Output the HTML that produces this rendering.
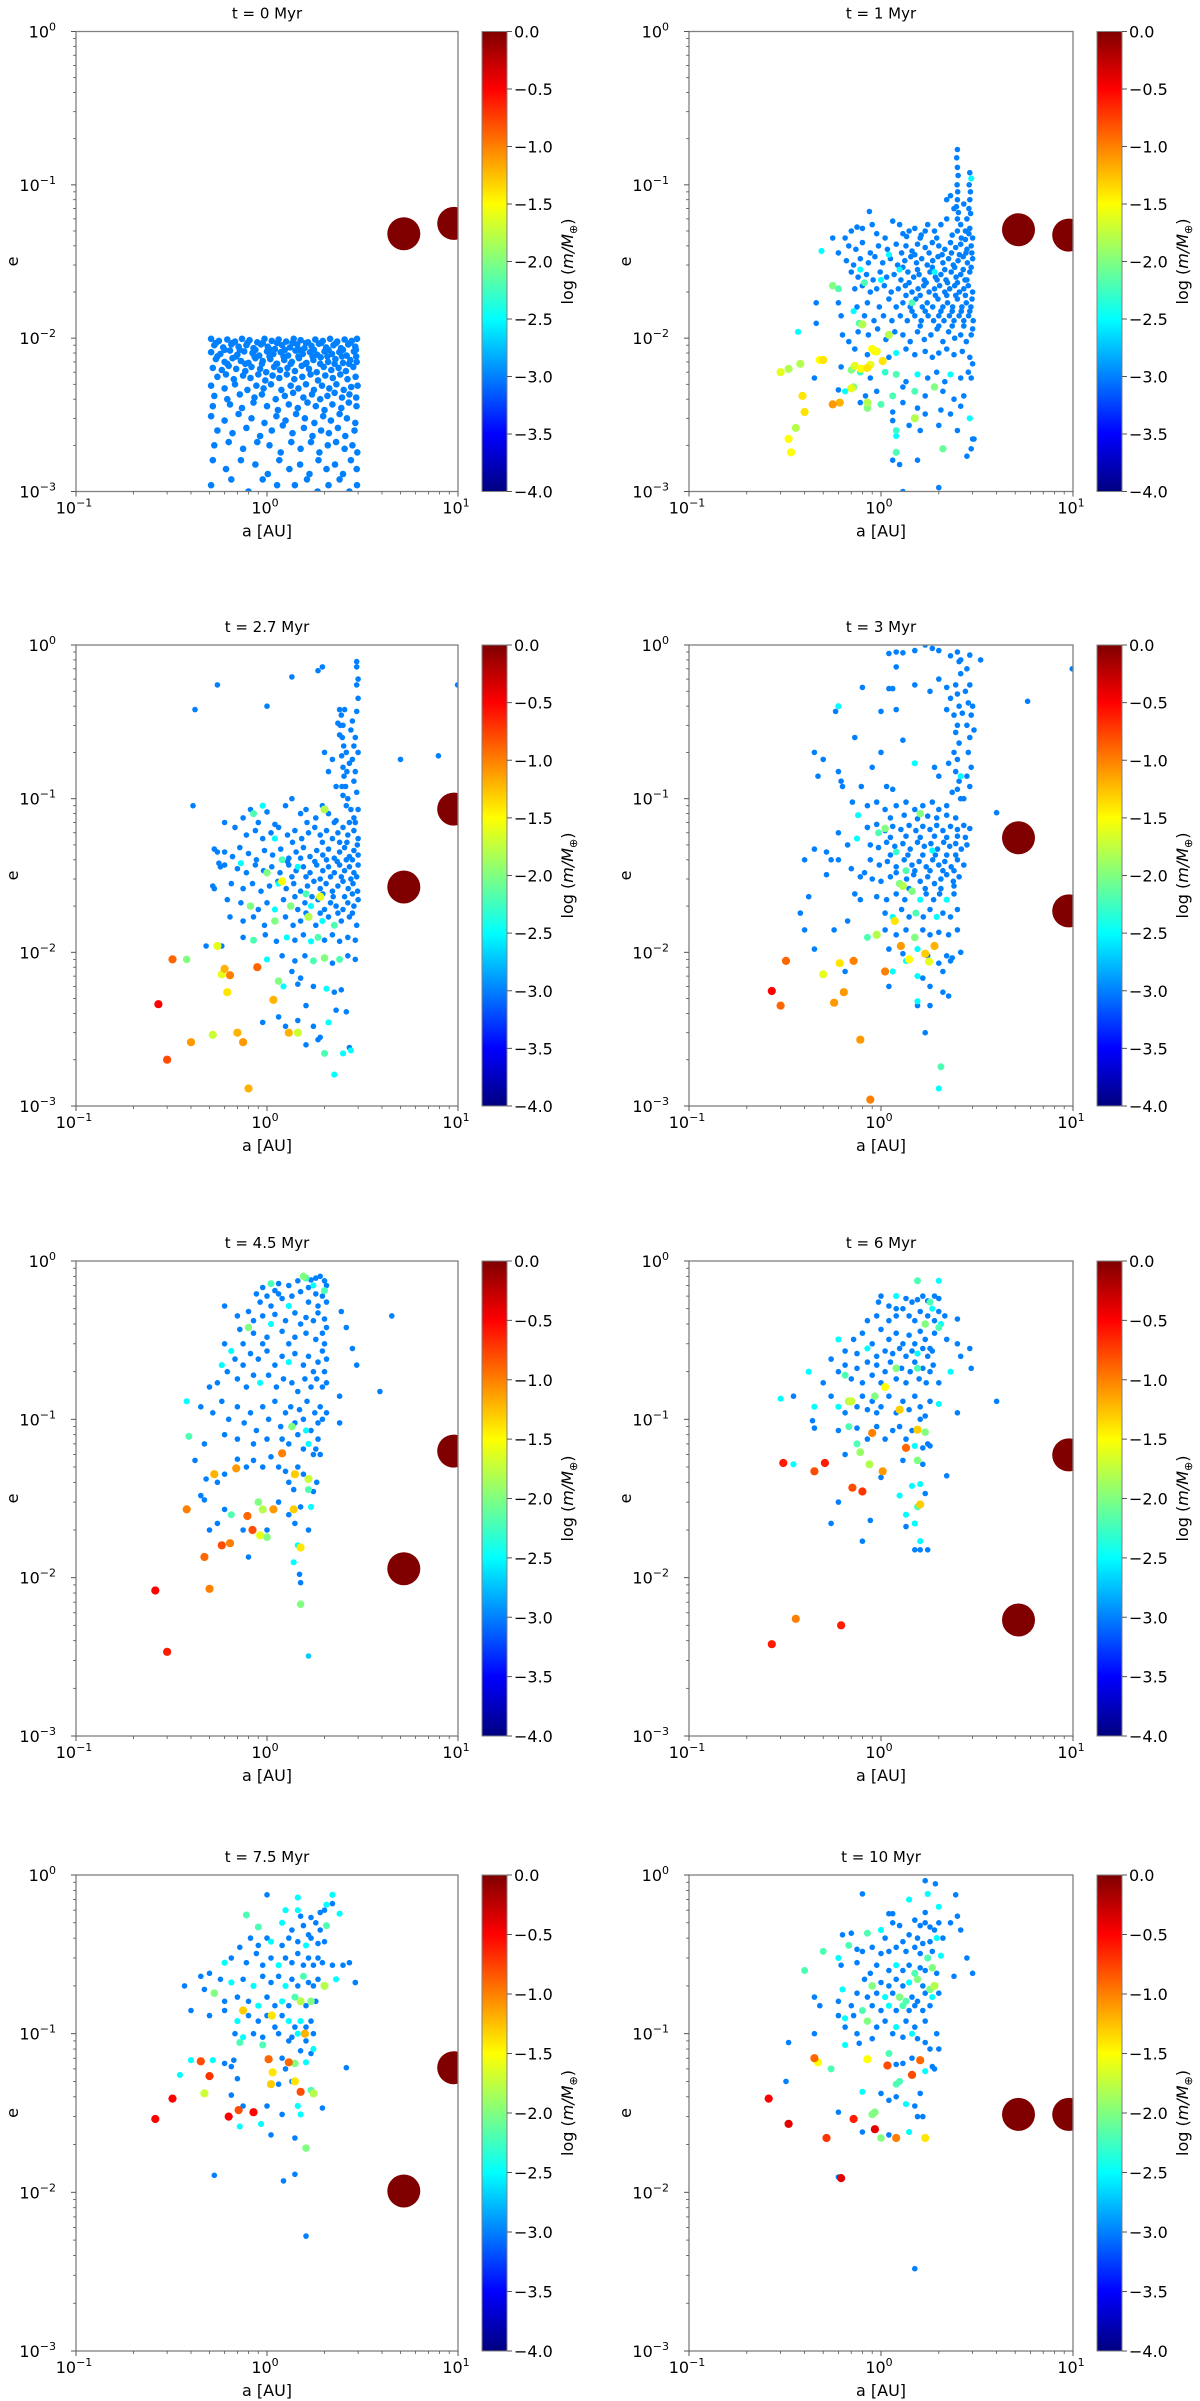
<!DOCTYPE html>
<html><head><meta charset="utf-8"><title>Planetesimal evolution a-e</title>
<style>
html,body{margin:0;padding:0;background:#fff;}
svg{display:block;font-family:"DejaVu Sans","Liberation Sans",sans-serif;}
</style></head>
<body>
<svg id="fig" width="1200" height="2401" viewBox="0 0 1200 2401" xmlns="http://www.w3.org/2000/svg">
<defs>
<linearGradient id="jetgrad" x1="0" y1="1" x2="0" y2="0">
<stop offset="0" stop-color="#00007f"/><stop offset="0.125" stop-color="#0000ff"/><stop offset="0.25" stop-color="#0080ff"/><stop offset="0.375" stop-color="#00ffff"/><stop offset="0.5" stop-color="#80ff80"/><stop offset="0.625" stop-color="#ffff00"/><stop offset="0.75" stop-color="#ff8000"/><stop offset="0.875" stop-color="#ff0000"/><stop offset="1" stop-color="#7f0000"/>
</linearGradient>
</defs>
</svg>
<script>
// ---- data: [a (AU), e, log(m/Mearth)] ----
const titles = ["t = 0 Myr","t = 1 Myr","t = 2.7 Myr","t = 3 Myr","t = 4.5 Myr","t = 6 Myr","t = 7.5 Myr","t = 10 Myr"];
const xTicks = [-1,0,1];
const yTicks = [-3,-2,-1,0];
const cbTicks = [0,-0.5,-1,-1.5,-2,-2.5,-3,-3.5,-4];
const cbLabels = ["0.0","\u22120.5","\u22121.0","\u22121.5","\u22122.0","\u22122.5","\u22123.0","\u22123.5","\u22124.0"];

const t0 = [[5.2,0.048,0],[9.5,0.056,0],
[0.51,.0099,-3],[0.56,.0096,-3],[0.62,.0098,-3],[0.68,.0095,-3],[0.74,.0099,-3],[0.81,.0097,-3],[0.89,.0094,-3],[0.97,.0099,-3],[1.06,.0096,-3],[1.15,.0098,-3],[1.26,.0095,-3],[1.38,.0099,-3],[1.5,.0097,-3],[1.64,.0094,-3],[1.79,.0098,-3],[1.96,.0096,-3],[2.14,.0099,-3],[2.33,.0095,-3],[2.55,.0098,-3],[2.78,.0096,-3],[2.96,.0099,-3],
[0.54,.0093,-3],[0.6,.0084,-3],[0.66,.0093,-3],[0.72,.0084,-3],[0.79,.0093,-3],[0.87,.0084,-3],[0.95,.0093,-3],[1.04,.0084,-3],[1.13,.0093,-3],[1.24,.0084,-3],[1.36,.0093,-3],[1.48,.0084,-3],[1.6,.0093,-3],[1.76,.0084,-3],[1.92,.0093,-3],[2.1,.0084,-3],[2.3,.0093,-3],[2.5,.0084,-3],[2.72,.0093,-3],[2.92,.0084,-3],
[0.53,.009,-3],[0.59,.0087,-3],[0.65,.0091,-3],[0.71,.0088,-3],[0.78,.009,-3],[0.85,.0086,-3],[0.93,.0091,-3],[1.01,.0088,-3],[1.1,.0085,-3],[1.2,.009,-3],[1.32,.0087,-3],[1.44,.0091,-3],[1.57,.0086,-3],[1.71,.0089,-3],[1.87,.0092,-3],[2.04,.0087,-3],[2.23,.009,-3],[2.44,.0086,-3],[2.66,.0091,-3],[2.9,.0088,-3],
[0.51,.0081,-3],[0.57,.0079,-3],[0.64,.0083,-3],[0.7,.0078,-3],[0.76,.0082,-3],[0.84,.008,-3],[0.91,.0077,-3],[1.0,.0082,-3],[1.08,.0079,-3],[1.18,.0081,-3],[1.29,.0077,-3],[1.41,.0083,-3],[1.54,.0079,-3],[1.68,.0081,-3],[1.83,.0078,-3],[2.0,.0082,-3],[2.19,.0079,-3],[2.39,.0081,-3],[2.61,.0077,-3],[2.85,.0082,-3],
[0.55,.0076,-3],[0.62,.0068,-3],[0.69,.0076,-3],[0.77,.0068,-3],[0.86,.0076,-3],[0.94,.0068,-3],[1.03,.0076,-3],[1.12,.0068,-3],[1.22,.0076,-3],[1.33,.0068,-3],[1.46,.0076,-3],[1.59,.0068,-3],[1.73,.0076,-3],[1.9,.0068,-3],[2.07,.0076,-3],[2.26,.0068,-3],[2.47,.0076,-3],[2.69,.0068,-3],[2.93,.0076,-3],
[0.54,.0073,-3],[0.6,.007,-3],[0.66,.0074,-3],[0.73,.0071,-3],[0.8,.0069,-3],[0.87,.0074,-3],[0.95,.0071,-3],[1.04,.0073,-3],[1.13,.0068,-3],[1.23,.0072,-3],[1.35,.007,-3],[1.47,.0074,-3],[1.61,.0069,-3],[1.75,.0072,-3],[1.91,.0075,-3],[2.09,.007,-3],[2.28,.0073,-3],[2.5,.0069,-3],[2.73,.0072,-3],[2.95,.007,-3],
[0.52,.0064,-3],[0.58,.0062,-3],[0.63,.0066,-3],[0.69,.0063,-3],[0.77,.0061,-3],[0.83,.0065,-3],[0.92,.0063,-3],[0.99,.006,-3],[1.09,.0065,-3],[1.17,.0062,-3],[1.28,.0064,-3],[1.4,.0061,-3],[1.52,.0066,-3],[1.66,.0063,-3],[1.82,.006,-3],[1.98,.0065,-3],[2.17,.0062,-3],[2.37,.0064,-3],[2.59,.0061,-3],[2.83,.0065,-3],
[0.55,.0056,-3],[0.61,.0058,-3],[0.67,.0054,-3],[0.75,.0057,-3],[0.82,.0055,-3],[0.9,.0058,-3],[0.98,.0053,-3],[1.07,.0057,-3],[1.16,.0055,-3],[1.27,.0058,-3],[1.39,.0054,-3],[1.53,.0056,-3],[1.69,.0058,-3],[1.85,.0053,-3],[2.02,.0057,-3],[2.21,.0055,-3],[2.42,.0058,-3],[2.64,.0054,-3],[2.91,.0056,-3],
[0.51,.0049,-3],[0.6,.0047,-3],[0.68,.005,-3],[0.79,.0046,-3],[0.88,.0049,-3],[0.96,.0047,-3],[1.05,.005,-3],[1.19,.0046,-3],[1.33,.0049,-3],[1.46,.0047,-3],[1.6,.005,-3],[1.76,.0046,-3],[1.94,.0049,-3],[2.12,.0047,-3],[2.31,.005,-3],[2.52,.0046,-3],[2.76,.0048,-3],[2.98,.0049,-3],
[0.53,.0042,-3],[0.62,.004,-3],[0.72,.0043,-3],[0.86,.0041,-3],[0.94,.0043,-3],[1.11,.004,-3],[1.24,.0042,-3],[1.37,.0044,-3],[1.55,.0041,-3],[1.72,.0043,-3],[1.9,.004,-3],[2.07,.0042,-3],[2.26,.0044,-3],[2.47,.0041,-3],[2.7,.0043,-3],[2.93,.0041,-3],
[0.52,.0036,-3],[0.64,.0037,-3],[0.74,.0035,-3],[0.85,.0038,-3],[1.0,.0036,-3],[1.14,.0034,-3],[1.3,.0037,-3],[1.45,.0035,-3],[1.63,.0038,-3],[1.8,.0036,-3],[2.0,.0034,-3],[2.2,.0037,-3],[2.45,.0035,-3],[2.68,.0038,-3],[2.94,.0036,-3],
[0.51,.0031,-3],[0.6,.0029,-3],[0.71,.0032,-3],[0.83,.003,-3],[0.97,.0028,-3],[1.12,.0031,-3],[1.25,.0029,-3],[1.42,.0032,-3],[1.58,.003,-3],[1.77,.0028,-3],[1.97,.0031,-3],[2.16,.0029,-3],[2.4,.0032,-3],[2.62,.003,-3],[2.9,.0028,-3],
[0.55,.0025,-3],[0.66,.0024,-3],[0.78,.0026,-3],[0.92,.0023,-3],[1.06,.0025,-3],[1.21,.0027,-3],[1.36,.0024,-3],[1.56,.0026,-3],[1.73,.0023,-3],[1.92,.0025,-3],[2.11,.0024,-3],[2.35,.0026,-3],[2.57,.0023,-3],[2.87,.0025,-3],
[0.53,.002,-3],[0.63,.0021,-3],[0.75,.0019,-3],[0.89,.0021,-3],[1.03,.002,-3],[1.18,.0018,-3],[1.34,.0021,-3],[1.5,.0019,-3],[1.7,.0021,-3],[1.88,.0018,-3],[2.08,.002,-3],[2.3,.0021,-3],[2.55,.0019,-3],[2.8,.002,-3],[2.97,.0018,-3],
[0.52,.0016,-3],[0.61,.0014,-3],[0.73,.0016,-3],[0.87,.0015,-3],[1.01,.0013,-3],[1.16,.0016,-3],[1.31,.0014,-3],[1.49,.0015,-3],[1.67,.0013,-3],[1.86,.0016,-3],[2.05,.0014,-3],[2.27,.0015,-3],[2.5,.0013,-3],[2.75,.0016,-3],[2.95,.0014,-3],
[0.51,.0011,-3],[0.65,.0012,-3],[0.8,.001,-3],[0.95,.0012,-3],[1.13,.0011,-3],[1.4,.0011,-3],[1.62,.0012,-3],[1.84,.001,-3],[2.1,.0011,-3],[2.4,.0012,-3],[2.7,.001,-3],[2.96,.0011,-3]];

const t1 = [[5.2,0.051,0],[9.5,0.047,0],
[2.5,0.17,-3],[2.48,0.15,-3],[2.5,0.13,-3],[2.52,0.115,-3],[2.49,0.1,-3],[2.51,0.09,-3],[2.5,0.08,-3],[2.47,0.072,-3],[2.53,0.066,-3],[2.5,0.06,-3],[2.9,0.12,-3],[2.88,0.1,-3],[2.92,0.09,-3],[2.9,0.08,-3],[2.87,0.07,-3],[2.93,0.065,-3],[2.95,0.11,-2.5],[2.3,0.085,-3],[2.2,0.08,-3],[2.4,0.07,-3],[2.7,0.075,-3],[2.8,0.06,-3],
[0.56,0.045,-3],[0.49,0.037,-2.5],[0.6,0.036,-3],[0.65,0.045,-3],[0.7,0.05,-3],[0.75,0.053,-3],[0.8,0.052,-3],[0.87,0.067,-3],[0.9,0.055,-3],[0.95,0.048,-3],[1.05,0.045,-3],[1.15,0.058,-3],[1.25,0.055,-3],[1.3,0.048,-3],[1.4,0.05,-3],[1.5,0.052,-3],[1.6,0.045,-3],[1.75,0.055,-3],[1.9,0.05,-3],[2.05,0.055,-3],[2.2,0.06,-3],[2.6,0.055,-3],[2.75,0.05,-3],[3.0,0.045,-3],
[0.68,0.04,-3],[0.74,0.038,-3],[0.8,0.042,-3],[0.88,0.036,-3],[0.97,0.04,-3],[1.08,0.038,-3],[1.2,0.041,-3],[1.35,0.04,-3],[1.45,0.037,-3],[1.55,0.041,-3],[1.7,0.039,-3],[1.85,0.042,-3],[2.0,0.04,-3],[2.15,0.038,-3],[2.3,0.042,-3],[2.45,0.039,-3],[2.6,0.041,-3],[2.8,0.038,-3],[2.95,0.04,-3],
[0.66,0.032,-3],[0.72,0.03,-3],[0.78,0.033,-3],[0.86,0.031,-3],[0.93,0.034,-3],[1.02,0.031,-3],[1.12,0.033,-3],[1.22,0.03,-3],[1.33,0.032,-3],[1.43,0.034,-3],[1.53,0.031,-3],[1.63,0.033,-3],[1.74,0.03,-3],[1.86,0.032,-3],[1.98,0.034,-3],[2.1,0.031,-3],[2.25,0.033,-3],[2.38,0.03,-3],[2.52,0.032,-3],[2.68,0.034,-3],[2.82,0.031,-3],[3.0,0.033,-3],[1.1,0.035,-2.5],[0.78,0.028,-2.5],
[0.7,0.027,-3],[0.76,0.025,-3],[0.84,0.026,-3],[0.91,0.024,-3],[0.99,0.027,-3],[1.07,0.025,-3],[1.17,0.026,-3],[1.27,0.024,-3],[1.38,0.027,-3],[1.48,0.025,-3],[1.58,0.026,-3],[1.68,0.024,-3],[1.8,0.027,-3],[1.92,0.025,-3],[2.05,0.026,-3],[2.18,0.024,-3],[2.32,0.027,-3],[2.46,0.025,-3],[2.6,0.026,-3],[2.74,0.024,-3],[2.9,0.027,-3],[1.25,0.028,-2.5],[1.9,0.027,-2.5],
[0.56,0.022,-2],[0.6,0.021,-2.2],[0.73,0.021,-3],[0.8,0.022,-3],[0.88,0.02,-3],[0.95,0.021,-3],[1.04,0.022,-3],[1.13,0.02,-3],[1.23,0.021,-3],[1.34,0.022,-3],[1.45,0.02,-3],[1.56,0.021,-3],[1.67,0.022,-3],[1.78,0.02,-3],[1.9,0.021,-3],[2.02,0.022,-3],[2.15,0.02,-3],[2.28,0.021,-3],[2.42,0.022,-3],[2.56,0.02,-3],[2.7,0.021,-3],[2.85,0.022,-3],[3.0,0.02,-3],[0.82,0.023,-2.2],[1.0,0.024,-2.5],
[0.46,0.017,-3],[0.6,0.017,-3],[0.75,0.016,-3],[0.85,0.017,-3],[0.98,0.016,-3],[1.1,0.018,-3],[1.2,0.016,-3],[1.3,0.017,-3],[1.42,0.016,-3],[1.52,0.018,-3],[1.64,0.016,-3],[1.74,0.017,-3],[1.86,0.016,-3],[1.98,0.018,-3],[2.1,0.016,-3],[2.22,0.017,-3],[2.36,0.016,-3],[2.5,0.018,-3],[2.64,0.016,-3],[2.78,0.017,-3],[2.94,0.016,-3],[1.45,0.017,-2.2],
[0.62,0.014,-3],[0.72,0.015,-2.5],[0.82,0.014,-3],[0.92,0.013,-3],[1.03,0.014,-3],[1.14,0.013,-3],[1.26,0.014,-3],[1.37,0.013,-3],[1.5,0.014,-3],[1.62,0.013,-3],[1.76,0.014,-3],[1.88,0.013,-3],[2.0,0.014,-3],[2.13,0.013,-3],[2.27,0.014,-3],[2.4,0.013,-3],[2.55,0.014,-3],[2.7,0.013,-3],[2.86,0.014,-3],[3.02,0.013,-3],[0.77,0.0125,-2.2],
[0.46,0.0125,-3],[0.37,0.011,-2.5],[0.63,0.0105,-3],[0.68,0.0095,-3],[0.76,0.011,-3],[0.86,0.0105,-3],[0.96,0.0115,-3],[1.06,0.0098,-3],[1.18,0.011,-3],[1.3,0.0105,-3],[1.42,0.0095,-3],[1.55,0.011,-3],[1.68,0.0098,-3],[1.82,0.0105,-3],[1.96,0.0115,-3],[2.1,0.0095,-3],[2.25,0.011,-3],[2.42,0.01,-3],[2.6,0.0105,-3],[2.78,0.0095,-3],[2.95,0.0105,-3],[1.1,0.0105,-1.8],
[0.73,0.0085,-3],[0.85,0.0078,-3],[0.95,0.0082,-1.6],[1.1,0.0075,-3],[1.2,0.008,-2.5],[1.35,0.0085,-3],[1.5,0.0078,-3],[1.7,0.0082,-3],[1.85,0.0075,-3],[2.0,0.008,-3],[2.2,0.0085,-3],[2.4,0.0078,-3],[2.65,0.0082,-3],[2.9,0.0075,-3],[3.0,0.0068,-3],
[0.45,0.0055,-3],[0.62,0.0065,-3],[0.7,0.0062,-2],[0.78,0.006,-2.3],[0.88,0.0055,-3],[1.05,0.006,-2.3],[1.2,0.0058,-2.2],[1.35,0.0052,-3],[1.55,0.0058,-2.5],[1.75,0.0055,-3],[1.95,0.006,-3],[2.15,0.0052,-3],[2.3,0.0058,-2.5],[2.6,0.0055,-3],[2.85,0.006,-3],[2.95,0.0055,-3],
[0.6,0.0046,-3],[0.65,0.0045,-2.5],[0.72,0.0048,-2],[0.83,0.0042,-3],[0.95,0.0045,-3],[1.15,0.0042,-2.2],[1.3,0.0048,-3],[1.5,0.0045,-2.2],[1.7,0.0042,-3],[1.9,0.0048,-2],[2.1,0.0045,-3],[2.4,0.004,-3],[2.7,0.0042,-3],
[0.78,0.0038,-3],[0.85,0.0035,-2],[1.0,0.0037,-2.2],[1.15,0.0033,-3],[1.3,0.0038,-3],[1.55,0.0035,-3],[1.7,0.0032,-3],[2.05,0.0034,-3],[2.3,0.0032,-3],[2.6,0.0036,-3],[2.9,0.003,-2.5],
[1.15,0.0029,-3],[1.2,0.0025,-2.3],[1.4,0.0027,-3],[1.5,0.003,-1.8],[1.6,0.0025,-3],[2.0,0.0027,-3],[2.5,0.0025,-3],[3.0,0.0022,-3],[3.05,0.0022,-3],[1.2,0.0023,-2.5],
[1.15,0.0016,-3],[1.2,0.0018,-2.2],[1.25,0.0015,-3],[1.55,0.0016,-3],[2.1,0.0019,-2.1],[2.8,0.0017,-3],[2.95,0.0019,-3],[1.3,0.001,-3],[2.0,0.00106,-3],
[1.36,0.046,-3],[1.62,0.047,-3],[1.95,0.045,-3],[2.35,0.047,-3],[2.62,0.045,-3],[2.87,0.048,-3],[1.28,0.036,-3],[1.5,0.035,-3],[1.78,0.036,-3],[2.08,0.035,-3],[2.33,0.036,-3],[2.56,0.035,-3],[2.77,0.036,-3],[2.97,0.036,-3],[1.3,0.029,-3],[1.55,0.028,-3],[1.85,0.029,-3],[2.15,0.028,-3],[2.42,0.029,-3],[2.68,0.028,-3],[2.95,0.029,-3],[1.4,0.023,-3],[1.72,0.023,-3],[1.96,0.024,-3],[2.22,0.023,-3],[2.5,0.023,-3],[2.8,0.024,-3],[1.35,0.019,-3],[1.6,0.019,-3],[1.92,0.019,-3],[2.2,0.019,-3],[2.45,0.019,-3],[2.75,0.019,-3],[2.98,0.018,-3],[1.45,0.015,-3],[1.7,0.015,-3],[2.05,0.015,-3],[2.35,0.015,-3],[2.62,0.015,-3],[2.9,0.015,-3],[1.6,0.012,-3],[2.0,0.012,-3],[2.35,0.012,-3],[2.7,0.012,-3],[3.0,0.0115,-3],[2.5,0.05,-3],[2.75,0.044,-3],[2.9,0.052,-3],[1.7,0.05,-3],
[0.3,0.006,-1.6],[0.33,0.0063,-1.8],[0.38,0.0068,-1.8],[0.48,0.0072,-1.5],[0.5,0.0072,-1.4],[0.39,0.0042,-1.4],[0.4,0.0033,-1.4],[0.36,0.0026,-1.8],[0.33,0.0022,-1.5],[0.34,0.0018,-1.5],[0.56,0.0037,-1.1],[0.61,0.0038,-1.2],[0.7,0.0047,-1.6],[0.85,0.0038,-1.8],[0.88,0.0067,-1.6],[0.73,0.0066,-1.6],[0.79,0.0063,-1.5],[0.85,0.0064,-1.4],[0.93,0.0082,-1.5],[1.02,0.0071,-1.4],[0.8,0.0123,-1.8],[0.9,0.0085,-1.5]];

const t2 = [[5.2,0.0266,0],[9.5,0.0855,0],
[2.45,0.35,-3],[2.5,0.3,-3],[2.48,0.25,-3],[2.52,0.22,-3],[2.46,0.19,-3],[2.5,0.16,-3],[2.53,0.14,-3],[2.47,0.12,-3],[2.5,0.105,-3],[2.42,0.3,-3],[2.4,0.26,-3],[2.55,0.38,-3],[2.6,0.2,-3],[2.62,0.15,-3],[2.58,0.12,-3],[2.8,0.32,-3],[2.75,0.28,-3],[2.85,0.22,-3],[2.8,0.18,-3],[2.9,0.15,-3],[2.85,0.13,-3],[2.95,0.11,-3],[3.0,0.6,-3],[2.95,0.55,-3],[3.0,0.45,-3],[2.95,0.37,-3],[2.9,0.25,-3],[3.0,0.2,-3],[2.7,0.17,-3],[2.65,0.1,-3],[2.3,0.12,-3],[2.2,0.18,-3],[2.0,0.2,-3],[2.1,0.15,-3],[2.4,0.38,-3],[2.35,0.31,-3],[2.6,0.09,-3],[2.75,0.085,-3],[2.95,0.72,-3],
[0.75,0.075,-3],[0.82,0.085,-3],[0.9,0.07,-3],[1.0,0.082,-3],[1.1,0.068,-3],[1.25,0.09,-3],[1.35,0.1,-3],[1.5,0.08,-3],[1.6,0.085,-3],[1.8,0.075,-3],[1.95,0.09,-3],[2.1,0.08,-3],[2.25,0.07,-3],[2.85,0.075,-3],[3.0,0.085,-3],[0.95,0.09,-2.5],[0.85,0.08,-2.2],
[0.6,0.07,-3],[0.68,0.065,-3],[0.78,0.058,-3],[0.87,0.062,-3],[0.95,0.055,-3],[1.05,0.06,-3],[1.15,0.065,-3],[1.28,0.058,-3],[1.4,0.062,-3],[1.52,0.055,-3],[1.65,0.06,-3],[1.78,0.065,-3],[1.9,0.058,-3],[2.05,0.062,-3],[2.2,0.055,-3],[2.35,0.06,-3],[2.5,0.065,-3],[2.65,0.058,-3],[2.85,0.062,-3],[3.0,0.055,-3],[1.1,0.055,-2.5],
[0.55,0.045,-3],[0.6,0.045,-3],[0.66,0.042,-3],[0.72,0.048,-3],[0.8,0.044,-3],[0.88,0.04,-3],[0.97,0.046,-3],[1.07,0.043,-3],[1.18,0.047,-3],[1.3,0.041,-3],[1.42,0.045,-3],[1.55,0.048,-3],[1.68,0.042,-3],[1.82,0.046,-3],[1.96,0.043,-3],[2.1,0.047,-3],[2.25,0.041,-3],[2.4,0.045,-3],[2.55,0.048,-3],[2.7,0.042,-3],[2.85,0.046,-3],[3.0,0.043,-3],[0.73,0.038,-2.5],[1.2,0.04,-2.2],
[0.57,0.036,-3],[0.7,0.035,-3],[0.78,0.033,-3],[0.87,0.037,-3],[0.96,0.034,-3],[1.06,0.036,-3],[1.17,0.033,-3],[1.3,0.037,-3],[1.42,0.034,-3],[1.55,0.036,-3],[1.68,0.033,-3],[1.82,0.037,-3],[1.96,0.034,-3],[2.1,0.036,-3],[2.25,0.033,-3],[2.4,0.037,-3],[2.55,0.034,-3],[2.7,0.036,-3],[2.85,0.033,-3],[3.0,0.037,-3],[1.0,0.033,-2],[1.45,0.036,-2.5],
[0.52,0.027,-3],[0.65,0.028,-3],[0.75,0.026,-3],[0.84,0.028,-3],[0.93,0.025,-3],[1.03,0.027,-3],[1.14,0.029,-3],[1.26,0.026,-3],[1.38,0.028,-3],[1.5,0.025,-3],[1.63,0.027,-3],[1.76,0.029,-3],[1.9,0.026,-3],[2.04,0.028,-3],[2.2,0.025,-3],[2.35,0.027,-3],[2.5,0.029,-3],[2.66,0.026,-3],[2.82,0.028,-3],[2.98,0.025,-3],[1.15,0.028,-2.5],[1.6,0.024,-2.2],
[0.62,0.022,-3],[0.73,0.021,-3],[0.82,0.02,-2],[0.9,0.019,-3],[1.0,0.021,-3],[1.1,0.019,-2.5],[1.22,0.022,-3],[1.33,0.02,-2],[1.45,0.019,-3],[1.58,0.021,-3],[1.7,0.02,-2.5],[1.85,0.022,-3],[2.0,0.019,-3],[2.15,0.021,-3],[2.3,0.02,-3],[2.5,0.019,-3],[2.65,0.021,-3],[2.85,0.02,-3],[3.0,0.022,-3],
[0.64,0.017,-3],[0.75,0.016,-3],[0.85,0.017,-3],[0.97,0.015,-3],[1.1,0.016,-2],[1.25,0.017,-3],[1.37,0.015,-3],[1.5,0.016,-3],[1.65,0.017,-1.8],[1.8,0.015,-3],[1.95,0.016,-2.5],[2.1,0.017,-3],[2.25,0.015,-2.2],[2.45,0.016,-3],[2.7,0.017,-3],[2.95,0.015,-3],
[0.75,0.0125,-3],[0.85,0.012,-2.2],[0.98,0.013,-3],[1.12,0.0118,-3],[1.27,0.0125,-2.5],[1.4,0.012,-3],[1.55,0.013,-3],[1.7,0.0118,-2.5],[1.85,0.0125,-2.2],[2.0,0.012,-3],[2.2,0.013,-3],[2.4,0.0118,-3],[2.65,0.0125,-3],[2.9,0.012,-3],[0.48,0.011,-3],
[1.0,0.009,-2.5],[1.2,0.0095,-3],[1.4,0.0088,-3],[1.58,0.0095,-3],[1.75,0.0088,-2.2],[2.0,0.0092,-2],[2.2,0.0085,-3],[2.4,0.009,-2.2],[2.65,0.0095,-3],[2.9,0.009,-3],[1.35,0.0075,-3],[1.5,0.0068,-3],
[1.15,0.0065,-2],[1.22,0.006,-2.5],[1.45,0.0062,-3],[1.75,0.006,-3],[2.05,0.0058,-2.5],[2.25,0.0055,-3],[2.45,0.0057,-3],[1.6,0.0045,-3],[0.95,0.0035,-3],[1.15,0.0038,-3],[1.45,0.0036,-3],[1.25,0.0033,-3],[1.75,0.0033,-3],[2.1,0.0035,-2.5],[2.3,0.0042,-3],[2.6,0.0041,-3],[1.9,0.0028,-3],[1.6,0.0025,-3],[2.0,0.0022,-2.2],[2.5,0.0022,-2.5],[2.7,0.0024,-3],[2.75,0.0023,-2.5],[2.25,0.0016,-2.5],[1.85,0.0027,-3],
[1.36,0.052,-3],[1.62,0.07,-3],[1.95,0.052,-3],[2.3,0.072,-3],[2.62,0.052,-3],[2.9,0.07,-3],[1.28,0.039,-3],[1.5,0.041,-3],[1.78,0.039,-3],[2.05,0.04,-3],[2.33,0.039,-3],[2.6,0.04,-3],[2.8,0.04,-3],[2.97,0.05,-3],[1.35,0.031,-3],[1.6,0.031,-3],[1.9,0.03,-3],[2.15,0.031,-3],[2.45,0.031,-3],[2.75,0.03,-3],[2.95,0.031,-3],[1.4,0.023,-3],[1.72,0.023,-3],[1.96,0.024,-3],[2.22,0.023,-3],[2.55,0.023,-3],[2.8,0.024,-3],[1.6,0.018,-3],[1.9,0.018,-3],[2.35,0.018,-3],[2.8,0.018,-3],[2.4,0.052,-3],[2.7,0.07,-3],
[0.55,0.55,-3],[0.42,0.38,-3],[0.41,0.09,-3],[1.35,0.62,-3],[1.0,0.4,-3],[1.85,0.68,-3],[1.95,0.72,-3],[2.95,0.78,-3],[5.0,0.18,-3],[7.9,0.19,-3],[9.95,0.55,-3],[0.53,0.047,-3],[0.56,0.038,-3],[0.6,0.037,-3],[0.53,0.026,-3],[0.58,0.011,-3],
[0.27,0.0046,-0.5],[0.3,0.002,-0.8],[0.32,0.009,-0.9],[0.38,0.009,-2],[0.4,0.0026,-1.1],[0.52,0.0029,-1.7],[0.55,0.011,-1.6],[0.58,0.0072,-1.6],[0.6,0.0078,-1.2],[0.62,0.0055,-1.4],[0.64,0.0071,-1.0],[0.7,0.003,-1.2],[0.75,0.0026,-1.1],[0.8,0.0013,-1.2],[0.89,0.008,-0.9],[1.08,0.0049,-1.2],[1.3,0.003,-1.2],[1.45,0.003,-1.7],[1.2,0.029,-1.5],[1.9,0.023,-1.6],[2.0,0.085,-1.8]];

const t3 = [[5.2,0.0556,0],[9.5,0.0186,0],
[2.5,0.9,-3],[2.55,0.78,-3],[2.6,0.65,-3],[2.45,0.55,-3],[2.5,0.48,-3],[2.55,0.4,-3],[2.4,0.35,-3],[2.5,0.3,-3],[2.45,0.27,-3],[2.55,0.23,-3],[2.4,0.2,-3],[2.5,0.18,-3],[2.45,0.15,-3],[2.55,0.13,-3],[2.5,0.115,-3],[2.35,0.11,-3],[2.6,0.1,-3],[2.8,0.7,-3],[2.9,0.55,-3],[2.85,0.42,-3],[2.95,0.35,-3],[2.8,0.3,-3],[2.9,0.25,-3],[2.85,0.2,-3],[2.95,0.16,-3],[2.8,0.14,-3],[2.9,0.12,-3],[2.7,0.1,-3],[2.75,0.5,-3],[3.0,0.4,-3],[3.05,0.28,-3],[2.3,0.45,-3],[2.2,0.38,-3],[2.25,0.17,-3],[2.65,0.36,-3],[2.6,0.14,-2.5],
[1.1,0.88,-3],[1.2,0.9,-3],[1.3,0.89,-3],[1.5,0.92,-3],[1.7,1.0,-3],[1.85,0.95,-3],[2.0,0.92,-3],[2.3,0.85,-3],[2.6,0.8,-3],[2.9,0.86,-3],[3.3,0.8,-3],[1.2,0.72,-3],[0.8,0.53,-3],[1.1,0.52,-3],[1.15,0.52,-3],[1.5,0.55,-3],[1.8,0.5,-3],[2.0,0.6,-3],[2.2,0.53,-3],[0.6,0.4,-2.5],[0.58,0.37,-3],[1.0,0.37,-3],[1.2,0.38,-3],[0.73,0.25,-3],[1.3,0.24,-3],[0.45,0.2,-3],[0.5,0.18,-3],[0.6,0.15,-3],[0.62,0.13,-3],[0.9,0.16,-3],[1.0,0.2,-3],[1.5,0.17,-2.5],[0.47,0.14,-3],[0.63,0.12,-3],[0.71,0.095,-3],[0.79,0.12,-3],[1.07,0.12,-3],[1.15,0.115,-3],[5.8,0.43,-3],[9.9,0.7,-3],[4.0,0.081,-3],[1.9,0.16,-3],[2.0,0.14,-3],
[0.85,0.09,-3],[0.95,0.095,-3],[1.05,0.085,-3],[1.2,0.09,-3],[1.35,0.095,-3],[1.5,0.085,-3],[1.65,0.09,-3],[1.85,0.095,-3],[2.0,0.085,-3],[2.2,0.09,-3],[0.76,0.078,-2.5],[1.6,0.08,-2],
[0.85,0.065,-3],[0.95,0.068,-3],[1.05,0.062,-3],[1.15,0.066,-3],[1.27,0.063,-3],[1.4,0.067,-3],[1.52,0.062,-3],[1.65,0.066,-3],[1.8,0.063,-3],[1.95,0.067,-3],[2.1,0.062,-3],[2.3,0.066,-3],[2.5,0.063,-3],[2.7,0.067,-3],[2.9,0.064,-3],[0.97,0.06,-2.2],[1.05,0.064,-2],[0.6,0.06,-3],[0.75,0.055,-2.5],[0.67,0.05,-3],
[0.88,0.05,-3],[0.97,0.048,-3],[1.07,0.052,-3],[1.18,0.049,-3],[1.3,0.051,-3],[1.42,0.047,-3],[1.55,0.052,-3],[1.68,0.049,-3],[1.82,0.051,-3],[1.97,0.047,-3],[2.12,0.052,-3],[2.28,0.049,-3],[2.45,0.051,-3],[2.62,0.047,-3],[2.8,0.05,-3],[1.2,0.045,-2.3],[1.85,0.046,-2.5],[0.45,0.047,-3],[0.52,0.045,-3],[0.55,0.04,-3],
[0.88,0.04,-3],[0.98,0.037,-3],[1.08,0.039,-3],[1.2,0.036,-3],[1.32,0.04,-3],[1.45,0.037,-3],[1.58,0.039,-3],[1.72,0.036,-3],[1.86,0.04,-3],[2.0,0.037,-3],[2.15,0.039,-3],[2.32,0.036,-3],[2.5,0.04,-3],[2.7,0.037,-3],[0.7,0.035,-3],[0.6,0.04,-3],[0.82,0.033,-3],[1.35,0.034,-2.2],[0.4,0.04,-3],
[0.78,0.031,-3],[0.9,0.03,-3],[1.0,0.029,-3],[1.12,0.031,-3],[1.25,0.028,-2],[1.36,0.03,-3],[1.48,0.032,-3],[1.6,0.029,-3],[1.75,0.031,-3],[1.9,0.028,-3],[2.05,0.03,-3],[2.2,0.032,-3],[2.38,0.029,-3],[2.55,0.031,-3],[1.3,0.027,-1.8],[0.52,0.032,-3],
[0.73,0.024,-3],[0.78,0.022,-3],[0.95,0.023,-3],[1.07,0.022,-3],[1.2,0.024,-3],[1.33,0.022,-3],[1.45,0.025,-2],[1.6,0.022,-2.5],[1.72,0.024,-3],[1.88,0.022,-3],[2.02,0.024,-3],[2.2,0.022,-2.5],[2.4,0.024,-3],[0.42,0.023,-3],
[1.05,0.018,-3],[1.15,0.017,-2.5],[1.28,0.019,-3],[1.4,0.017,-3],[1.52,0.018,-2.2],[1.66,0.017,-3],[1.8,0.019,-3],[1.95,0.017,-2.5],[2.1,0.018,-3],[2.3,0.017,-3],[2.5,0.019,-3],[0.38,0.018,-3],[0.67,0.016,-3],
[0.95,0.013,-1.8],[1.05,0.014,-3],[1.2,0.013,-3],[1.35,0.014,-3],[1.5,0.0125,-2],[1.65,0.014,-3],[1.8,0.013,-3],[2.0,0.0135,-3],[2.25,0.013,-3],[2.5,0.014,-3],[0.85,0.0125,-2.2],[0.4,0.014,-3],[0.57,0.014,-3],[0.45,0.0105,-3],
[1.1,0.0105,-3],[1.3,0.0098,-3],[1.55,0.0105,-2.5],[1.75,0.0095,-3],[2.0,0.0085,-3],[2.2,0.0095,-3],[2.35,0.0092,-3],[2.6,0.01,-3],[1.35,0.0088,-2.5],[1.55,0.007,-2.5],[1.65,0.0068,-3],[1.15,0.0075,-2.5],[0.65,0.0075,-3],[1.1,0.006,-3],[1.8,0.006,-3],[2.1,0.0055,-3],[2.25,0.0052,-3],[1.55,0.0045,-3],[1.8,0.0045,-3],[1.55,0.0048,-2.5],[1.7,0.003,-3],[2.05,0.0018,-2.2],[2.0,0.0013,-2.5],[2.1,0.0075,-3],[2.3,0.0088,-3],
[1.12,0.075,-3],[1.32,0.078,-3],[1.55,0.074,-3],[1.75,0.077,-3],[1.95,0.075,-3],[2.2,0.078,-3],[2.45,0.075,-3],[1.12,0.056,-3],[1.35,0.057,-3],[1.6,0.056,-3],[1.9,0.057,-3],[2.2,0.056,-3],[2.5,0.057,-3],[2.75,0.056,-3],[1.12,0.043,-3],[1.38,0.043,-3],[1.65,0.043,-3],[1.92,0.043,-3],[2.2,0.043,-3],[2.45,0.043,-3],[1.2,0.033,-3],[1.5,0.034,-3],[1.8,0.034,-3],[2.1,0.034,-3],[2.4,0.034,-3],[1.4,0.026,-3],[1.7,0.026,-3],[2.05,0.026,-3],[2.4,0.027,-3],
[0.27,0.0056,-0.5],[0.3,0.0045,-0.9],[0.32,0.0088,-0.9],[0.5,0.0072,-1.6],[0.57,0.0047,-1.1],[0.61,0.0085,-1.4],[0.64,0.0055,-1.1],[0.72,0.0088,-1.0],[0.78,0.0027,-1.1],[0.88,0.0011,-1.0],[1.05,0.0075,-1.0],[1.27,0.011,-1.1],[1.4,0.009,-1.5],[1.7,0.0098,-1.3],[1.78,0.0087,-1.6],[1.9,0.011,-1.2],[1.18,0.016,-1.4],[0.95,0.013,-1.8]];

const t4 = [[5.2,0.0114,0],[9.5,0.063,0],
[1.05,0.72,-2.2],[1.1,0.65,-3],[1.15,0.62,-3],[1.3,0.7,-3],[1.45,0.75,-3],[1.55,0.8,-2],[1.6,0.78,-2.2],[1.7,0.76,-3],[1.8,0.78,-3],[1.9,0.8,-3],[2.0,0.75,-3],[2.05,0.7,-3],[2.0,0.65,-2.2],[1.95,0.6,-3],[1.8,0.62,-3],[1.65,0.68,-3],[1.5,0.64,-3],[1.35,0.6,-3],[1.2,0.58,-3],[1.0,0.6,-3],[0.95,0.68,-3],[0.88,0.62,-3],[0.92,0.55,-3],[1.05,0.52,-3],[1.3,0.52,-2.5],[1.65,0.55,-3],[1.85,0.52,-3],[2.05,0.55,-3],[1.15,0.72,-3],[1.75,0.7,-2.5],
[0.7,0.45,-3],[0.8,0.48,-3],[0.85,0.42,-3],[0.95,0.45,-3],[1.05,0.4,-2.5],[1.1,0.46,-3],[1.25,0.42,-3],[1.4,0.47,-3],[1.5,0.4,-3],[1.6,0.44,-3],[1.75,0.42,-3],[1.85,0.47,-3],[2.0,0.43,-3],[2.05,0.38,-3],[1.95,0.35,-3],[1.8,0.32,-3],[1.6,0.35,-3],[1.4,0.33,-3],[1.2,0.36,-3],[1.0,0.33,-3],[0.85,0.35,-3],[0.72,0.37,-3],[0.8,0.38,-2],[0.6,0.52,-3],[0.75,0.3,-3],[0.95,0.3,-3],[1.3,0.3,-3],[2.0,0.3,-3],[2.45,0.48,-3],[2.6,0.38,-3],
[0.6,0.3,-3],[0.65,0.27,-2.5],[0.68,0.24,-3],[0.75,0.22,-3],[0.82,0.26,-3],[0.9,0.24,-3],[1.0,0.27,-3],[1.1,0.22,-3],[1.2,0.25,-3],[1.3,0.23,-2.5],[1.4,0.26,-3],[1.55,0.22,-3],[1.65,0.25,-3],[1.75,0.2,-3],[1.85,0.23,-3],[1.95,0.27,-3],[2.0,0.2,-3],[2.05,0.24,-3],[0.55,0.17,-3],[0.62,0.2,-3],[0.7,0.18,-3],[0.78,0.16,-3],[0.85,0.19,-3],[0.92,0.17,-2.5],[1.02,0.19,-3],[1.12,0.16,-3],[1.22,0.18,-3],[1.35,0.17,-3],[1.45,0.15,-3],[1.58,0.18,-3],[1.7,0.16,-3],[1.82,0.18,-3],[1.95,0.16,-3],[2.05,0.17,-3],[0.58,0.22,-2.5],[2.8,0.28,-3],[2.95,0.22,-3],[3.9,0.15,-3],[4.5,0.45,-3],[2.4,0.14,-3],[0.5,0.16,-3],
[0.45,0.12,-3],[0.38,0.13,-2.5],[0.52,0.11,-3],[0.58,0.13,-3],[0.63,0.1,-3],[0.7,0.12,-3],[0.76,0.095,-3],[0.82,0.11,-3],[0.88,0.085,-3],[0.95,0.12,-3],[1.02,0.1,-3],[1.1,0.13,-3],[1.18,0.09,-3],[1.25,0.11,-3],[1.33,0.12,-3],[1.4,0.095,-3],[1.48,0.115,-3],[1.55,0.1,-3],[1.62,0.13,-3],[1.7,0.085,-3],[1.78,0.11,-3],[1.85,0.095,-3],[1.9,0.12,-3],[1.95,0.1,-3],[2.05,0.11,-3],[1.2,0.075,-3],[1.3,0.07,-3],[1.45,0.08,-3],[1.55,0.065,-3],[1.65,0.07,-2.5],[1.75,0.06,-3],[1.85,0.075,-3],[1.9,0.06,-3],[1.0,0.075,-3],[0.85,0.07,-3],[0.7,0.075,-3],[0.6,0.08,-3],[0.47,0.07,-3],[0.39,0.078,-2.2],[2.4,0.095,-3],[1.35,0.09,-2],[1.6,0.085,-2.5],[1.8,0.065,-3],
[0.42,0.055,-3],[0.45,0.033,-3],[0.48,0.042,-3],[0.55,0.04,-3],[0.6,0.045,-3],[0.7,0.056,-3],[0.78,0.05,-3],[0.85,0.055,-3],[0.95,0.05,-3],[1.05,0.058,-3],[1.15,0.05,-3],[1.25,0.047,-3],[1.3,0.04,-3],[1.38,0.036,-3],[1.45,0.05,-3],[1.55,0.045,-3],[1.65,0.036,-2.2],[1.75,0.035,-3],[1.82,0.04,-3],[1.7,0.028,-2.5],[1.5,0.028,-3],[1.3,0.025,-3],[1.15,0.03,-3],[0.9,0.03,-2],[0.65,0.025,-2.2],[0.6,0.027,-3],[0.5,0.02,-3],[0.47,0.031,-3],[0.55,0.022,-3],[0.75,0.02,-3],[1.0,0.02,-3],[1.4,0.022,-3],[1.65,0.02,-3],
[1.0,0.018,-2],[1.38,0.0125,-2.5],[1.48,0.0105,-3],[1.5,0.0093,-3],[1.5,0.0068,-2],[0.8,0.0135,-3],[1.65,0.0032,-2.7],[1.45,0.016,-2.5],
[0.26,0.0083,-0.5],[0.3,0.0034,-0.6],[0.38,0.027,-1.0],[0.47,0.0135,-0.9],[0.5,0.0085,-1.0],[0.53,0.045,-1.2],[0.58,0.016,-0.8],[0.64,0.0165,-1.0],[0.69,0.049,-1.1],[0.79,0.0245,-0.9],[0.84,0.02,-0.8],[0.92,0.0185,-1.6],[1.08,0.027,-1.1],[1.2,0.061,-1.0],[1.4,0.045,-1.3],[1.38,0.027,-1.3],[1.5,0.0155,-1.4],[1.65,0.042,-1.7],[0.95,0.027,-1.8]];

const t5 = [[5.2,0.0054,0],[9.5,0.0596,0],
[1.0,0.6,-3],[0.97,0.55,-3],[1.1,0.52,-3],[1.2,0.6,-2.5],[1.35,0.58,-3],[1.45,0.55,-3],[1.55,0.57,-3],[1.65,0.6,-3],[1.75,0.56,-3],[1.9,0.6,-3],[2.0,0.58,-3],[1.3,0.5,-3],[1.4,0.45,-3],[1.6,0.48,-3],[1.75,0.45,-3],[1.85,0.5,-2.5],[2.0,0.48,-3],[2.15,0.45,-3],[0.85,0.42,-3],[0.95,0.45,-3],[1.1,0.42,-3],[1.2,0.45,-3],[1.5,0.42,-3],[1.7,0.4,-2],[1.9,0.42,-3],[2.05,0.4,-2.5],[1.2,0.5,-3],[1.55,0.75,-2.2],[2.0,0.75,-2.5],[2.5,0.43,-3],[1.8,0.55,-2.2],
[0.6,0.32,-2.5],[0.72,0.32,-3],[0.8,0.35,-3],[0.9,0.3,-3],[1.0,0.37,-3],[1.1,0.32,-3],[1.2,0.35,-3],[1.3,0.3,-3],[1.4,0.34,-3],[1.5,0.3,-3],[1.6,0.36,-3],[1.7,0.32,-3],[1.8,0.28,-3],[1.9,0.35,-3],[2.0,0.38,-2.2],[2.2,0.32,-3],[0.65,0.27,-3],[0.75,0.26,-3],[0.85,0.28,-2.5],[0.95,0.25,-3],[1.05,0.27,-3],[1.15,0.26,-3],[1.25,0.28,-3],[1.35,0.25,-3],[1.45,0.27,-3],[1.55,0.26,-2.5],[1.65,0.28,-3],[1.75,0.25,-3],[1.85,0.27,-3],[2.5,0.3,-3],[2.9,0.28,-3],[2.6,0.25,-3],
[0.42,0.2,-2.5],[0.5,0.17,-3],[0.55,0.24,-3],[0.6,0.2,-3],[0.65,0.22,-3],[0.7,0.18,-3],[0.75,0.21,-3],[0.8,0.17,-3],[0.85,0.23,-3],[0.9,0.19,-3],[0.95,0.22,-3],[1.0,0.17,-3],[1.05,0.2,-3],[1.12,0.23,-3],[1.2,0.18,-3],[1.28,0.21,-3],[1.35,0.17,-3],[1.42,0.2,-3],[1.5,0.23,-3],[1.58,0.18,-3],[1.65,0.21,-3],[1.72,0.17,-3],[1.8,0.2,-3],[1.87,0.22,-3],[2.0,0.17,-3],[1.2,0.21,-2],[1.55,0.21,-2.2],[2.95,0.21,-3],[2.3,0.2,-2.5],[0.65,0.19,-2.2],
[0.35,0.14,-3],[0.3,0.135,-2.5],[0.45,0.12,-2.5],[0.55,0.14,-3],[0.6,0.12,-2.5],[0.65,0.11,-3],[0.7,0.13,-3],[0.75,0.12,-3],[0.8,0.14,-3],[0.85,0.115,-3],[0.9,0.13,-3],[0.95,0.11,-3],[1.0,0.12,-3],[1.1,0.14,-3],[1.2,0.11,-3],[1.3,0.13,-3],[1.4,0.115,-3],[1.5,0.14,-3],[1.6,0.12,-3],[1.7,0.105,-3],[1.8,0.13,-3],[2.0,0.125,-2.5],[2.5,0.11,-3],[4.0,0.13,-3],[0.93,0.14,-2],[0.68,0.13,-1.8],
[0.44,0.098,-3],[0.45,0.088,-3],[0.6,0.085,-3],[0.68,0.09,-2.2],[0.75,0.088,-3],[0.75,0.07,-2.2],[0.78,0.062,-1.9],[0.65,0.06,-3],[0.85,0.075,-3],[0.95,0.09,-3],[1.05,0.075,-3],[1.15,0.085,-3],[1.25,0.09,-3],[1.35,0.075,-3],[1.45,0.085,-3],[1.6,0.1,-3],[1.7,0.083,-2],[1.75,0.07,-3],[1.8,0.068,-3],[1.65,0.066,-3],[1.5,0.068,-2.5],[1.3,0.055,-3],[1.55,0.055,-2],[1.65,0.052,-3],[1.0,0.043,-3],[0.87,0.052,-1.8],[0.35,0.052,-2.5],[2.2,0.044,-3],
[0.6,0.03,-3],[0.55,0.022,-3],[0.88,0.023,-3],[0.8,0.017,-3],[1.25,0.033,-2.5],[1.35,0.025,-2.5],[1.35,0.021,-3],[1.5,0.022,-2.5],[1.55,0.028,-2.2],[1.6,0.017,-2.5],[1.5,0.015,-3],[1.6,0.015,-3],[1.75,0.015,-3],[1.45,0.038,-2.5],[1.6,0.039,-2.5],[1.7,0.034,-3],
[0.27,0.0038,-0.6],[0.31,0.053,-0.6],[0.36,0.0055,-1.0],[0.45,0.047,-0.8],[0.51,0.053,-0.6],[0.62,0.005,-0.6],[0.71,0.037,-0.8],[0.8,0.035,-0.7],[0.9,0.082,-1.0],[1.02,0.047,-1.1],[1.35,0.066,-0.9],[1.6,0.029,-1.3],[1.55,0.086,-1.3],[1.25,0.115,-1.3],[1.05,0.16,-1.5],[0.7,0.13,-1.7]];

const t6 = [[5.2,0.0102,0],[9.5,0.061,0],
[1.0,0.75,-3],[1.45,0.72,-2.5],[2.2,0.75,-2.5],[0.78,0.56,-2.2],[1.25,0.6,-2.5],[1.45,0.6,-2.5],[1.5,0.55,-3],[1.7,0.54,-3],[1.9,0.58,-3],[2.0,0.6,-3],[2.05,0.65,-2.5],[2.2,0.66,-3],[2.4,0.57,-2.5],[0.9,0.47,-2.2],[1.0,0.4,-3],[1.2,0.5,-2.5],[1.35,0.45,-3],[1.55,0.48,-3],[1.65,0.42,-3],[1.8,0.5,-3],[1.9,0.45,-3],[2.05,0.48,-2.2],[0.82,0.4,-3],[0.72,0.35,-3],[0.9,0.36,-3],[1.05,0.38,-2.5],[1.2,0.36,-3],[1.3,0.4,-3],[1.45,0.38,-3],[1.6,0.36,-2.5],[1.7,0.4,-3],[1.85,0.37,-3],[2.0,0.38,-3],[0.6,0.28,-2.5],[0.65,0.3,-3],[0.78,0.28,-3],[0.88,0.32,-3],[0.95,0.27,-3],[1.05,0.3,-3],[1.15,0.27,-2.5],[1.25,0.3,-3],[1.35,0.28,-3],[1.45,0.32,-3],[1.55,0.27,-3],[1.65,0.3,-3],[1.75,0.27,-3],[1.85,0.3,-3],[1.95,0.28,-3],[2.2,0.27,-3],[2.5,0.27,-3],[2.7,0.28,-3],
[0.5,0.24,-3],[0.45,0.23,-3],[0.57,0.22,-3],[0.65,0.21,-2.5],[0.75,0.22,-3],[0.85,0.2,-2.5],[0.95,0.23,-3],[1.05,0.21,-3],[1.15,0.23,-3],[1.25,0.2,-2.5],[1.35,0.22,-3],[1.45,0.2,-3],[1.55,0.23,-2.2],[1.65,0.21,-3],[1.75,0.2,-3],[1.85,0.22,-3],[2.0,0.2,-1.8],[2.3,0.22,-2.5],[2.9,0.21,-3],[0.37,0.2,-3],[0.47,0.19,-3],[0.53,0.18,-2],[0.6,0.16,-3],[0.7,0.17,-3],[0.8,0.16,-3],[0.9,0.15,-2.5],[1.0,0.17,-3],[1.1,0.15,-3],[1.2,0.16,-2.5],[1.3,0.15,-3],[1.4,0.17,-2.2],[1.5,0.16,-1.8],[1.6,0.15,-3],[1.7,0.16,-2],[1.8,0.16,-3],
[0.4,0.14,-3],[0.5,0.13,-3],[0.6,0.14,-3],[0.7,0.12,-2.5],[0.8,0.13,-3],[0.9,0.12,-3],[1.0,0.13,-3],[1.1,0.11,-3],[1.2,0.13,-3],[1.3,0.12,-2.5],[1.4,0.11,-3],[1.5,0.12,-2.5],[1.6,0.11,-3],[1.7,0.12,-3],[0.85,0.1,-3],[0.95,0.095,-3],[1.15,0.1,-3],[1.35,0.095,-3],[1.45,0.1,-2.5],[1.6,0.09,-3],[1.75,0.1,-3],[0.68,0.1,-3],[0.75,0.095,-2.5],[0.72,0.088,-2.2],[0.95,0.085,-2.2],[1.3,0.09,-3],[1.5,0.078,-3],[1.7,0.075,-3],[1.75,0.08,-2.5],[1.6,0.066,-2.5],[1.4,0.065,-2],[1.25,0.06,-3],[1.2,0.07,-3],[0.6,0.065,-3],[0.65,0.062,-3],[0.67,0.068,-3],[0.52,0.068,-2.5],[0.4,0.068,-2.5],[0.35,0.055,-2.5],[0.7,0.052,-3],[0.65,0.041,-3],[0.72,0.026,-2.5],[0.93,0.027,-2.5],[1.05,0.023,-3],[1.2,0.031,-3],[1.4,0.022,-3],[1.45,0.035,-2.5],[1.5,0.031,-2.5],[1.7,0.044,-2.2],[1.95,0.034,-3],[1.15,0.048,-3],[1.0,0.035,-3],[1.35,0.05,-3],[0.75,0.035,-3],
[0.53,0.0128,-3],[1.22,0.0118,-3],[1.4,0.013,-3],[1.6,0.0053,-3],[1.6,0.019,-2],[2.6,0.061,-3],[2.9,0.21,-3],
[0.26,0.029,-0.5],[0.32,0.039,-0.5],[0.45,0.067,-0.8],[0.5,0.054,-0.7],[0.63,0.03,-0.5],[0.71,0.033,-0.8],[0.85,0.032,-0.5],[1.02,0.069,-0.9],[1.3,0.066,-0.9],[1.5,0.043,-0.8],[1.05,0.048,-1.3],[1.07,0.057,-1.4],[1.4,0.05,-1.4],[1.58,0.1,-1.2],[1.06,0.13,-1.4],[0.75,0.14,-1.3],[0.47,0.042,-1.7],[1.75,0.042,-1.8]];

const t7 = [[5.2,0.031,0],[9.5,0.031,0],
[1.7,0.92,-3],[1.92,0.88,-3],[2.45,0.75,-3],[0.8,0.76,-3],[1.4,0.7,-2.5],[1.75,0.76,-2.5],[2.0,0.63,-2.5],[1.7,0.58,-3],[1.1,0.57,-3],[1.15,0.57,-3],[1.0,0.45,-2.5],[0.85,0.43,-2.2],[1.15,0.5,-3],[1.25,0.48,-3],[1.5,0.52,-3],[1.6,0.48,-3],[1.7,0.5,-3],[1.8,0.47,-3],[1.9,0.45,-3],[2.0,0.5,-3],[2.3,0.5,-3],[2.6,0.45,-3],[0.63,0.42,-3],[0.7,0.43,-3],[1.05,0.4,-3],[1.3,0.38,-3],[1.4,0.42,-3],[1.55,0.4,-3],[1.65,0.37,-3],[1.8,0.38,-3],[1.95,0.4,-2.5],[2.1,0.4,-3],[0.5,0.33,-2.2],[0.6,0.3,-2.5],[0.68,0.36,-2.2],[0.75,0.34,-3],[0.8,0.33,-3],[0.9,0.35,-3],[1.0,0.32,-3],[1.1,0.33,-3],[1.2,0.35,-3],[1.35,0.33,-3],[1.5,0.35,-3],[1.6,0.32,-3],[1.75,0.3,-2.2],[1.85,0.33,-3],[2.05,0.31,-2.5],[2.8,0.3,-3],[3.0,0.24,-3],[2.5,0.55,-3],
[0.4,0.25,-2.2],[0.62,0.27,-3],[0.75,0.28,-3],[0.88,0.24,-3],[0.95,0.27,-3],[1.1,0.25,-3],[1.2,0.27,-2.5],[1.3,0.25,-3],[1.4,0.27,-3],[1.5,0.24,-2.2],[1.6,0.26,-3],[1.7,0.25,-3],[1.85,0.26,-2],[1.95,0.24,-3],[2.4,0.23,-3],[0.82,0.22,-3],[0.9,0.2,-2],[1.0,0.21,-3],[1.1,0.2,-3],[1.2,0.22,-3],[1.3,0.2,-3],[1.4,0.21,-2.5],[1.55,0.22,-2],[1.65,0.2,-3],[1.8,0.19,-2],[1.9,0.2,-1.8],[0.63,0.19,-2.5],[0.75,0.18,-3],[0.85,0.17,-3],[0.95,0.18,-3],[1.05,0.17,-2.5],[1.15,0.18,-3],[1.25,0.17,-2],[1.35,0.16,-2.2],[1.45,0.17,-3],[1.55,0.16,-3],[1.7,0.18,-3],[1.85,0.17,-2.5],[2.0,0.18,-3],
[0.45,0.17,-3],[0.48,0.15,-3],[0.6,0.16,-3],[0.7,0.15,-3],[0.8,0.14,-2.2],[0.9,0.15,-3],[1.0,0.14,-3],[1.1,0.15,-2.5],[1.2,0.14,-3],[1.3,0.15,-2.2],[1.4,0.14,-3],[1.5,0.15,-3],[1.65,0.14,-3],[1.8,0.15,-3],[0.6,0.13,-3],[0.65,0.125,-2.5],[0.72,0.13,-3],[0.85,0.12,-2],[0.95,0.11,-3],[1.05,0.12,-3],[1.2,0.11,-2.5],[1.35,0.12,-3],[1.5,0.11,-3],[1.7,0.12,-3],[1.95,0.1,-3],[0.45,0.1,-3],[0.65,0.11,-3],[0.75,0.1,-3],[0.9,0.093,-3],[1.15,0.1,-3],[1.3,0.095,-3],[1.45,0.1,-2.5],[1.55,0.093,-3],[1.7,0.088,-3],[1.8,0.08,-3],[2.0,0.08,-3],[0.65,0.085,-2.5],[0.77,0.087,-3],[1.1,0.075,-2.2],[1.2,0.064,-3],[1.3,0.065,-3],[1.45,0.07,-3],[1.7,0.058,-2.5],[1.85,0.062,-3],[1.9,0.06,-3],[0.33,0.088,-3],[0.55,0.06,-2.2],[0.32,0.05,-3],[0.8,0.043,-2.5],[1.0,0.042,-3],[1.1,0.038,-3],[1.2,0.04,-3],[1.25,0.05,-2.2],[1.35,0.036,-2.5],[1.5,0.035,-3],[1.6,0.042,-3],[1.55,0.03,-3],[1.65,0.03,-3],[0.6,0.032,-3],[0.8,0.024,-3],[0.93,0.032,-2],[1.1,0.023,-3],[1.4,0.024,-2.5],[1.0,0.022,-2],[0.6,0.0125,-3],[1.5,0.0033,-3],
[0.26,0.039,-0.5],[0.33,0.027,-0.4],[0.45,0.07,-0.9],[0.47,0.066,-1.5],[0.52,0.022,-0.7],[0.62,0.0123,-0.4],[0.72,0.029,-0.6],[0.85,0.069,-1.5],[0.93,0.025,-0.4],[1.08,0.063,-0.8],[1.2,0.022,-1.0],[1.45,0.055,-0.8],[1.6,0.068,-0.9],[1.7,0.022,-1.4],[0.9,0.031,-2],[1.2,0.048,-2.2]];

const panelData = [t0,t1,t2,t3,t4,t5,t6,t7];

// ---- layout (pixel geometry, not data) ----
const layout = [
 {x:76,y:31.5,w:382,h:460,cb:482},{x:689,y:31.5,w:384,h:460,cb:1097},
 {x:76,y:645,w:382,h:461,cb:482},{x:689,y:645,w:384,h:461,cb:1097},
 {x:76,y:1261,w:382,h:475,cb:482},{x:689,y:1261,w:384,h:475,cb:1097},
 {x:76,y:1875,w:382,h:476,cb:482},{x:689,y:1875,w:384,h:476,cb:1097}
];
const CBW = 25;
const NS = "http://www.w3.org/2000/svg";
const svg = document.getElementById('fig');

function el(tag, attrs, parent){
  const e = document.createElementNS(NS, tag);
  for (const k in attrs) e.setAttribute(k, attrs[k]);
  (parent||svg).appendChild(e);
  return e;
}
function jet(m){
  const x = Math.max(0, Math.min(1, (m+4)/4));
  const c = t => Math.round(255*Math.max(0, Math.min(1, 1.5-Math.abs(4*x-t))));
  return `rgb(${c(3)},${c(2)},${c(1)})`;
}
function radius(m, idx){
  if (m > -0.2) return 16.5;
  const base = idx===0 ? 3.3 : 2.8;
  return base + Math.min(1.3, Math.max(0, (m+2.7)*1.4));
}
function powLabel(g, x, y, exp, anchor, name){
  const t = el('text', {x:x, y:y, 'font-size':16, fill:'#000', 'text-anchor':anchor}, g);
  
  
  t.appendChild(document.createTextNode('10'));
  const s = el('tspan', {dy:-7, 'font-size':11}, t);
  s.textContent = exp < 0 ? '\u2212' + (-exp) : String(exp);
  return t;
}

layout.forEach((L, i) => {
  const g = el('g', {});
  
  
  const X = la => L.x + (la + 1) / 2 * L.w;
  const Y = le => L.y + L.h - (le + 3) / 3 * L.h;
  const bottom = L.y + L.h;

  const cp = el('clipPath', {id:'clip'+i}, g);
  el('rect', {x:L.x, y:L.y, width:L.w, height:L.h}, cp);

  const pg = el('g', {'clip-path':`url(#clip${i})`}, g);
  
  
  const pts = panelData[i].slice().sort((p, q) => p[2] - q[2]);
  pts.forEach(p => {
    const c = el('circle', {cx:X(Math.log10(p[0])).toFixed(1), cy:Y(Math.log10(p[1])).toFixed(1), r:radius(p[2], i), fill:jet(p[2])}, pg);
    
    
  });

  const fr = el('rect', {x:L.x, y:L.y, width:L.w, height:L.h, fill:'none', stroke:'#808080', 'stroke-width':1.3}, g);
  
  

  xTicks.forEach(k => {
    const px = X(k);
    el('line', {x1:px, y1:bottom, x2:px, y2:bottom+5, stroke:'#555', 'stroke-width':1}, g);
    powLabel(g, px-2, bottom+22, k, 'middle', 'x-tick-label');
    if (k < 1) for (let m = 2; m <= 9; m++) {
      const mx = X(k + Math.log10(m));
      el('line', {x1:mx, y1:bottom, x2:mx, y2:bottom+3, stroke:'#555', 'stroke-width':0.8}, g);
    }
  });
  yTicks.forEach(k => {
    const py = Y(k);
    el('line', {x1:L.x-5, y1:py, x2:L.x, y2:py, stroke:'#555', 'stroke-width':1}, g);
    powLabel(g, L.x-20, py+6, k, 'end', 'y-tick-label');
    if (k < 0) for (let m = 2; m <= 9; m++) {
      const my = Y(k + Math.log10(m));
      el('line', {x1:L.x-3, y1:my, x2:L.x, y2:my, stroke:'#555', 'stroke-width':0.8}, g);
    }
  });

  const tt = el('text', {x:L.x + L.w/2, y:L.y - 13, 'font-size':15, 'text-anchor':'middle', fill:'#000'}, g);
  
  
  tt.textContent = titles[i];

  const xl = el('text', {x:L.x + L.w/2, y:bottom + 45, 'font-size':16, 'text-anchor':'middle', fill:'#000'}, g);
  
  
  xl.textContent = 'a [AU]';
  const ylx = (i % 2 === 0) ? 18 : 631;
  const yl = el('text', {x:ylx, y:L.y + L.h/2, 'font-size':16, 'text-anchor':'middle', fill:'#000', transform:`rotate(-90 ${ylx} ${L.y + L.h/2})`}, g);
  
  
  yl.textContent = 'e';

  const cb = el('g', {}, g);
  
  
  el('rect', {x:L.cb, y:L.y, width:CBW, height:L.h, fill:'url(#jetgrad)', stroke:'#808080', 'stroke-width':1}, cb);
  cbTicks.forEach((v, j) => {
    const py = L.y + (0 - v) / 4 * L.h;
    el('line', {x1:L.cb+CBW, y1:py, x2:L.cb+CBW+5, y2:py, stroke:'#555', 'stroke-width':1}, cb);
    const lt = el('text', {x:L.cb+CBW+7, y:py+6, 'font-size':16, fill:'#000'}, cb);
    
    
    lt.textContent = cbLabels[j];
  });
  const lx = L.cb + CBW + 66, ly = L.y + L.h/2;
  const cl = el('text', {x:lx, y:ly, 'font-size':16, 'text-anchor':'middle', fill:'#000', transform:`rotate(-90 ${lx} ${ly})`}, cb);
  
  
  cl.appendChild(document.createTextNode('log ('));
  const it = el('tspan', {'font-style':'italic'}, cl); it.textContent = 'm/M';
  const sb = el('tspan', {dy:4, 'font-size':11}, cl); sb.textContent = '\u2295';
  const cls = el('tspan', {dy:-4}, cl); cls.textContent = ')';
});
</script>
</body></html>
